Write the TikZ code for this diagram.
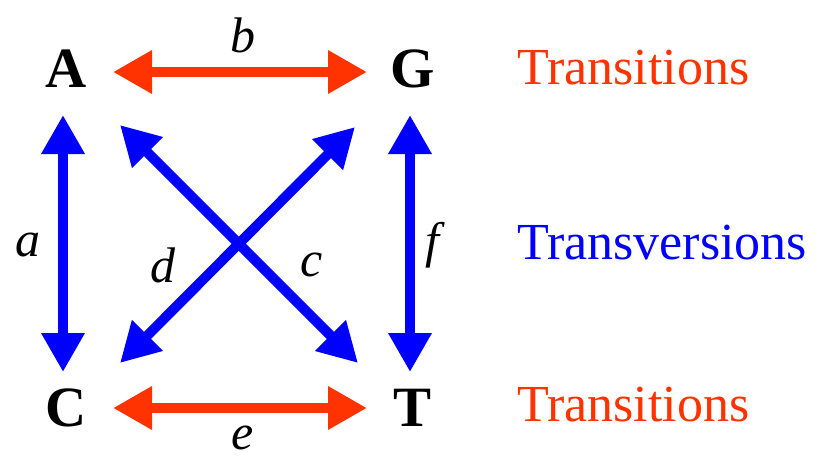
\documentclass[tikz,border=0pt]{standalone}
\usepackage{fontspec}
\setmainfont{Liberation Serif}
\usetikzlibrary{arrows.meta}
\definecolor{tred}{HTML}{FF3300}
\definecolor{tblue}{HTML}{0000FF}
\begin{document}
\begin{tikzpicture}[x=1pt,y=-1pt,
  base/.style={font=\fontsize{57}{60}\selectfont\bfseries, inner sep=0pt},
  lbl/.style={font=\fontsize{50}{56}\selectfont\itshape, inner sep=0pt},
  side/.style={font=\fontsize{52}{58}\selectfont, inner sep=0pt, anchor=west},
  dbl/.style={line width=10pt, {Triangle[length=39pt,width=41pt]}-{Triangle[length=39pt,width=41pt]}},
  redarr/.style={dbl, draw=tred, fill=tred},
  bluearr/.style={dbl, draw=tblue, fill=tblue}]
\useasboundingbox (0,0) rectangle (820,459);
\node[base] (A) at (66,69) {A};
\node[base] (G) at (413,69) {G};
\node[base] (C) at (66,408) {C};
\node[base] (T) at (413,408) {T};
\coordinate (bL) at (113,72); \coordinate (bR) at (367,72);
\coordinate (eL) at (113,408); \coordinate (eR) at (367,408);
\coordinate (aT) at (63,115); \coordinate (aB) at (63,372);
\coordinate (fT) at (410,115); \coordinate (fB) at (410,372);
\coordinate (cT) at (120,125); \coordinate (cB) at (358,363);
\coordinate (dT) at (355,127); \coordinate (dB) at (120,363);
\draw[redarr] (bL) -- (bR);
\draw[redarr] (eL) -- (eR);
\draw[bluearr] (aT) -- (aB);
\draw[bluearr] (fT) -- (fB);
\draw[bluearr] (cT) -- (cB);
\draw[bluearr] (dT) -- (dB);
\node[lbl] (lb) at (243,35) {b};
\node[lbl] (le) at (243,438) {e};
\node[lbl] (la) at (28,245) {a};
\node[lbl] (lf) at (432,245) {f};
\node[lbl] (ld) at (163,265) {d};
\node[lbl] (lc) at (312,265) {c};
\node[side, text=tred] (t1) at (517,68) {Transitions};
\node[side, text=tblue] (t2) at (517,243) {Transversions};
\node[side, text=tred] (t3) at (517,405) {Transitions};
\end{tikzpicture}
\end{document}
